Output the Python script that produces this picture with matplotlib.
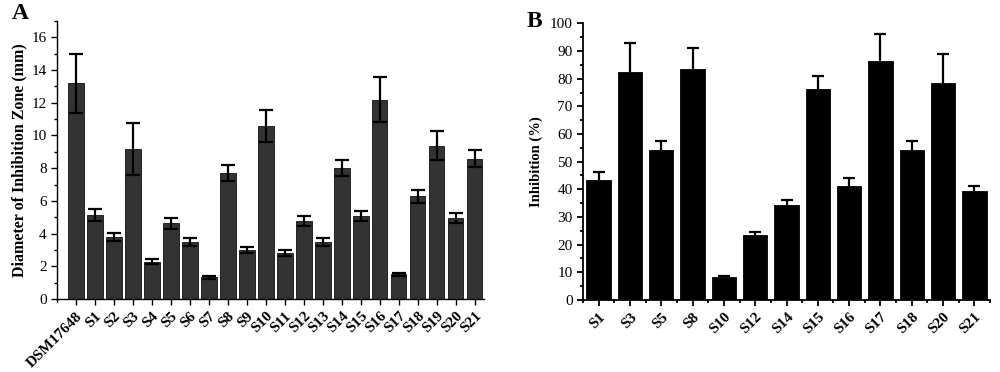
import matplotlib
import matplotlib.pyplot as plt
from matplotlib.ticker import MultipleLocator, FixedLocator

matplotlib.use("Agg")

# Panel A: diameter of inhibition zone (mm)
strains_a = ["DSM17648", "S1", "S2", "S3", "S4", "S5", "S6", "S7", "S8", "S9",
             "S10", "S11", "S12", "S13", "S14", "S15", "S16", "S17", "S18",
             "S19", "S20", "S21"]
zone_mm = [13.18, 5.15, 3.78, 9.18, 2.29, 4.63, 3.47, 1.32, 7.73, 3.0,
           10.57, 2.8, 4.78, 3.47, 7.98, 5.08, 12.18, 1.52, 6.27, 9.37,
           4.98, 8.57]
zone_err = [1.82, 0.37, 0.25, 1.57, 0.17, 0.33, 0.24, 0.08, 0.49, 0.2,
            0.96, 0.18, 0.3, 0.24, 0.49, 0.33, 1.37, 0.08, 0.42, 0.88,
            0.31, 0.53]

# Panel B: inhibition (%)
strains_b = ["S1", "S3", "S5", "S8", "S10", "S12", "S14", "S15", "S16",
             "S17", "S18", "S20", "S21"]
inhibition = [43.4, 82.3, 54.3, 83.4, 8.3, 23.4, 34.3, 76.4, 41.3, 86.5,
              54.3, 78.4, 39.4]
inhibition_err = [2.7, 10.8, 3.3, 7.6, 0.5, 1.2, 1.8, 4.6, 2.7, 9.5,
                  3.3, 10.5, 1.7]

serif = ["Liberation Serif", "DejaVu Serif"]
plt.rcParams["font.family"] = serif

fig = plt.figure(figsize=(10.0, 3.72), dpi=100)


def _style_axis(axis, width):
    for side in ("top", "right"):
        axis.spines[side].set_visible(False)
    for side in ("left", "bottom"):
        axis.spines[side].set_linewidth(width)
    axis.tick_params(which="major", direction="out", length=4, width=width,
                     labelsize=11)
    axis.tick_params(which="minor", direction="out", length=2.2, width=width)


# --- A ---
ax_a = fig.add_axes([0.057, 0.196, 0.427, 0.748])
pos_a = list(range(len(strains_a)))
ax_a.bar(pos_a, zone_mm, width=0.83, color="#333333", edgecolor="#111111",
         linewidth=0.6)
ax_a.errorbar(pos_a, zone_mm, yerr=zone_err, fmt="none", ecolor="black",
              elinewidth=1.6, capsize=5, capthick=1.6)
ax_a.set_xlim(-1.0, 21.5)
ax_a.set_ylim(0, 17)
ax_a.yaxis.set_major_locator(MultipleLocator(2))
ax_a.yaxis.set_minor_locator(MultipleLocator(1))
ax_a.set_xticks(pos_a)
ax_a.xaxis.set_minor_locator(FixedLocator([-1]))
ax_a.set_xticklabels(strains_a, rotation=45, ha="right", rotation_mode="anchor",
                     fontweight="bold", fontsize=10.5)
ax_a.set_ylabel("Diameter of Inhibition Zone (mm)", fontweight="bold",
                fontsize=11.5, labelpad=3)
_style_axis(ax_a, 1.0)
fig.text(0.012, 0.993, "A", fontsize=17, fontweight="bold", va="top",
         ha="left")

# --- B ---
ax_b = fig.add_axes([0.583, 0.194, 0.407, 0.743])
pos_b = list(range(len(strains_b)))
ax_b.bar(pos_b, inhibition, width=0.78, color="black", edgecolor="black",
         linewidth=0.6)
_, caps_b, _ = ax_b.errorbar(
    pos_b, inhibition, yerr=[[0] * len(inhibition_err), inhibition_err],
    fmt="none", ecolor="black", elinewidth=1.6, capsize=4, capthick=1.6,
)
# only the upper cap is drawn
caps_b[0].set_visible(False)
ax_b.set_xlim(-0.5, 12.5)
ax_b.set_ylim(0, 100)
ax_b.yaxis.set_major_locator(MultipleLocator(10))
ax_b.yaxis.set_minor_locator(MultipleLocator(5))
ax_b.set_xticks(pos_b)
ax_b.xaxis.set_minor_locator(MultipleLocator(0.5))
ax_b.set_xticklabels(strains_b, rotation=45, ha="right", rotation_mode="anchor",
                     fontweight="bold", fontsize=10.5)
ax_b.set_ylabel("Inhibition (%)", fontweight="bold", fontsize=10.5,
                labelpad=5)
_style_axis(ax_b, 1.3)
fig.text(0.527, 0.97, "B", fontsize=17, fontweight="bold", va="top",
         ha="left")

fig.savefig("out.png", dpi=100)
